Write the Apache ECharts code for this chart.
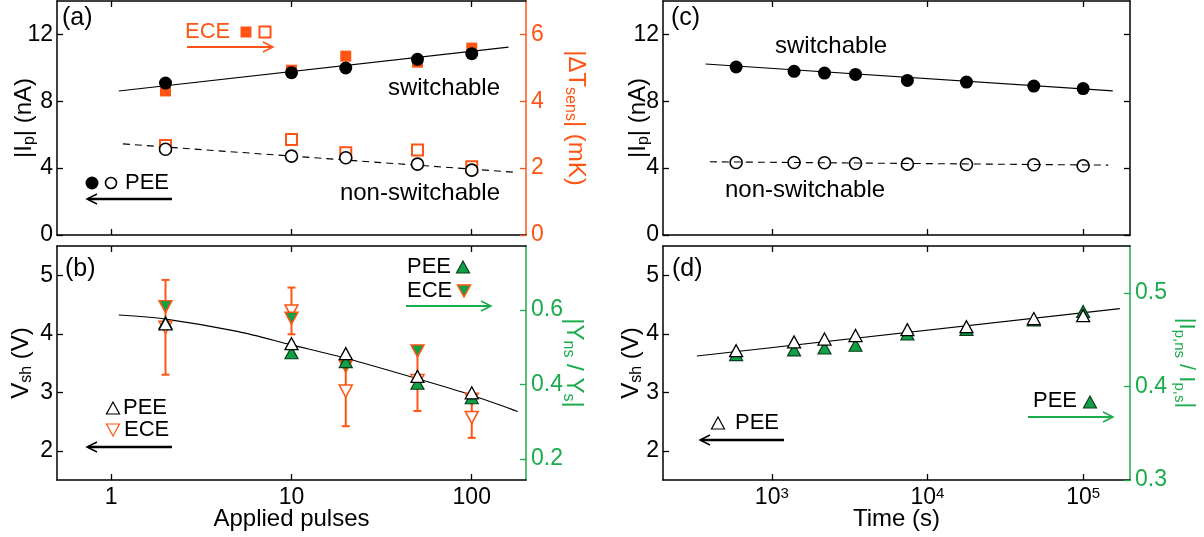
<!DOCTYPE html>
<html>
<head>
<meta charset="utf-8">
<script src="https://cdn.jsdelivr.net/npm/echarts@6/dist/echarts.min.js"></script>
<style>
  html, body { margin: 0; background: #fff; }
  #chart { width: 1204px; height: 537px; }
</style>
</head>
<body>
<div id="chart"></div>
<script>
// Data

// (a) + (b): applied pulses
const pulses = [2, 10, 20, 50, 100];
const peeSwitchA = [9.09, 9.71, 9.99, 10.51, 10.85];      // |Ip| nA, filled circles
const peeNonSwitchA = [5.13, 4.72, 4.62, 4.24, 3.88];     // |Ip| nA, open circles
const eceSwitchA = [4.31, 4.93, 5.35, 5.17, 5.59];        // |dT| mK, filled squares
const eceNonSwitchA = [2.68, 2.86, 2.46, 2.54, 2.04];     // |dT| mK, open squares
const fitSwitchAX = [1.1, 160];
const fitSwitchAY = [8.62, 11.24];
const fitNonSwitchAX = [1.16, 170];
const fitNonSwitchAY = [5.45, 3.76];

const peeVshB = [4.17, 3.83, 3.66, 3.27, 2.99];           // Vsh, open up triangles
const eceVshB = [4.11, 4.39, 3.02, 3.20, 2.57];           // Vsh, open down triangles
const eceErrB = [0.81, 0.40, 0.60, 0.52, 0.35];
const peeRatioB = [0.566, 0.485, 0.461, 0.403, 0.364];    // right axis, green up
const eceRatioB = [0.609, 0.578, 0.449, 0.490, 0.360];    // right axis, green down
const fitVshBX = [1.1, 2, 5, 10, 20, 50, 100, 180];
const fitVshBY = [4.32, 4.25, 4.04, 3.81, 3.58, 3.23, 2.95, 2.67];

// (c) + (d): time
const times = [590, 1390, 2180, 3450, 7430, 17800, 48200, 100000];
const peeSwitchC = [10.05, 9.79, 9.69, 9.61, 9.25, 9.15, 8.91, 8.76];
const peeNonSwitchC = [4.34, 4.34, 4.32, 4.28, 4.24, 4.22, 4.20, 4.14];
const fitSwitchCX = [375, 155000];
const fitSwitchCY = [10.23, 8.62];
const fitNonSwitchCX = [400, 145000];
const fitNonSwitchCY = [4.38, 4.18];

const peeVshD = [3.71, 3.86, 3.91, 3.97, 4.07, 4.12, 4.26, 4.31];
const peeRatioD = [0.434, 0.439, 0.441, 0.444, 0.456, 0.461, 0.471, 0.480];
const fitVshDX = [330, 172000];
const fitVshDY = [3.62, 4.43];

// Tick labels
const pulseTicks = [1, 10, 100];
const timeTicks = [1000, 10000, 100000];
const ipTicks = [0, 4, 8, 12];
const dtTicks = [0, 2, 4, 6];
const vshTicks = [2, 3, 4, 5];
const gammaTicks = [0.2, 0.4, 0.6];
const ratioTicks = [0.3, 0.4, 0.5];

// Styles
const FONT = 'Liberation Sans, Arial, Helvetica, sans-serif';
const ORANGE = '#ff5414';
const GREEN = '#1aab4b';
const GREEN_FILL = '#12a046';
const TICK_SIZE = 23;

const chart = echarts.init(document.getElementById('chart'), null, { renderer: 'canvas' });

const grids = [
  { left: 57, top: 1, width: 469, height: 234 },    // a
  { left: 57, top: 246, width: 469, height: 234 },  // b
  { left: 663, top: 1, width: 467, height: 234 },   // c
  { left: 663, top: 246, width: 467, height: 234 }, // d
];

function zip(xs, ys) {
  return xs.map((x, i) => [x, ys[i]]);
}

// rich styles for subscripts in axis names
const subRich = (size, color) => ({
  s: { fontSize: size, fontFamily: FONT, color: color, lineHeight: 10, verticalAlign: 'bottom' },
});

function xAxis(gridIndex, min, max, ticks, position, showLabels, formatter, name) {
  return {
    type: 'log', logBase: 10, gridIndex, position, min, max,
    name: name || '',
    nameLocation: 'middle',
    nameGap: 27,
    nameMoveOverlap: false,
    nameTextStyle: { fontSize: 24, fontFamily: FONT, color: '#000' },
    axisLine: { show: true, onZero: false, lineStyle: { color: '#000', width: 1.5 } },
    axisTick: { show: true, inside: true, length: 6, customValues: ticks, lineStyle: { color: '#000', width: 1.3 } },
    axisLabel: {
      show: showLabels, customValues: ticks, formatter, margin: 6,
      fontSize: TICK_SIZE, fontFamily: FONT, color: '#000',
      rich: {
        b: { fontSize: 23, fontFamily: FONT, color: '#000', lineHeight: 24 },
        p: { fontSize: 15, fontFamily: FONT, color: '#000', lineHeight: 14, verticalAlign: 'top' },
      },
    },
    splitLine: { show: false },
  };
}

function yAxis(gridIndex, min, max, ticks, position, color, showLabels, name, nameGap, nameSize) {
  return {
    type: 'value', gridIndex, position, min, max,
    name: name || '',
    nameLocation: 'middle',
    nameRotate: position === 'left' ? 90 : -90,
    nameGap: nameGap || 20,
    nameMoveOverlap: false,
    nameTextStyle: { fontSize: nameSize || 24, fontFamily: FONT, color, lineHeight: 28, rich: subRich(Math.round((nameSize || 24) * 0.66), color) },
    axisLine: { show: true, onZero: false, lineStyle: { color, width: 1.5 } },
    axisTick: { show: true, inside: true, length: 6, customValues: ticks, lineStyle: { color, width: 1.3 } },
    axisLabel: { show: showLabels, customValues: ticks, margin: position === 'left' ? 4 : 5, fontSize: TICK_SIZE, fontFamily: FONT, color },
    splitLine: { show: false },
  };
}

const xAxes = [
  xAxis(0, 0.5, 200, pulseTicks, 'bottom', false),
  xAxis(0, 0.5, 200, pulseTicks, 'top', false),
  xAxis(1, 0.5, 200, pulseTicks, 'bottom', true, v => String(v), 'Applied pulses'),
  xAxis(1, 0.5, 200, pulseTicks, 'top', false),
  xAxis(2, 200, 200000, timeTicks, 'bottom', false),
  xAxis(2, 200, 200000, timeTicks, 'top', false),
  xAxis(3, 200, 200000, timeTicks, 'bottom', true, v => '{b|10}{p|' + Math.round(Math.log10(v)) + '}', 'Time (s)'),
  xAxis(3, 200, 200000, timeTicks, 'top', false),
];

const yAxes = [
  yAxis(0, 0, 14, ipTicks, 'left', '#000', true, '|I{s|p}| (nA)', 19),
  yAxis(0, 0, 7, dtTicks, 'right', ORANGE, true, '|ΔT{s|sens}| (mK)', 36),
  yAxis(1, 1.5, 5.5, vshTicks, 'left', '#000', true, 'V{s|sh} (V)', 22),
  yAxis(1, 0.143, 0.772, gammaTicks, 'right', GREEN, true, '|Y{s|ns} / Y{s|s}|', 34),
  yAxis(2, 0, 14, ipTicks, 'left', '#000', true, '|I{s|p}| (nA)', 11),
  yAxis(2, 0, 14, ipTicks, 'right', '#000', false),
  yAxis(3, 1.5, 5.5, vshTicks, 'left', '#000', true, 'V{s|sh} (V)', 18),
  yAxis(3, 0.3, 0.55, ratioTicks, 'right', GREEN, true, '|I{s|p,ns} / I{s|p,s}|', 42, 22),
];

function fitLine(xi, yi, xs, ys, dashed, smooth) {
  return {
    type: 'line', xAxisIndex: xi, yAxisIndex: yi, data: zip(xs, ys),
    showSymbol: false, smooth: smooth || false, silent: true, z: 1,
    lineStyle: { color: '#000', width: 1.1, type: dashed ? [7, 5] : 'solid' },
  };
}

function scatter(xi, yi, xs, ys, symbol, size, fill, border, borderWidth, z, rotate) {
  return {
    type: 'scatter', xAxisIndex: xi, yAxisIndex: yi, data: zip(xs, ys),
    symbol, symbolSize: size, symbolRotate: rotate || 0, z, silent: true,
    itemStyle: { color: fill, borderColor: border, borderWidth, opacity: 1 },
  };
}

const errorBars = {
  type: 'custom', xAxisIndex: 2, yAxisIndex: 2, z: 1, silent: true,
  data: pulses.map((p, i) => [p, eceVshB[i] - eceErrB[i], eceVshB[i] + eceErrB[i]]),
  encode: { x: 0, y: [1, 2] },
  renderItem: function (params, api) {
    const x = api.value(0);
    const lo = api.coord([x, api.value(1)]);
    const hi = api.coord([x, api.value(2)]);
    const cap = 4;
    const st = { stroke: ORANGE, lineWidth: 2 };
    return {
      type: 'group',
      children: [
        { type: 'line', shape: { x1: lo[0], y1: lo[1], x2: hi[0], y2: hi[1] }, style: st },
        { type: 'line', shape: { x1: lo[0] - cap, y1: lo[1], x2: lo[0] + cap, y2: lo[1] }, style: st },
        { type: 'line', shape: { x1: hi[0] - cap, y1: hi[1], x2: hi[0] + cap, y2: hi[1] }, style: st },
      ],
    };
  },
};

const TRI = [13, 12];

const series = [
  // (a)
  fitLine(0, 0, fitSwitchAX, fitSwitchAY, false),
  fitLine(0, 0, fitNonSwitchAX, fitNonSwitchAY, true),
  scatter(0, 1, pulses, eceSwitchA, 'rect', 11, ORANGE, ORANGE, 0, 2),
  scatter(0, 1, pulses, eceNonSwitchA, 'rect', 11, '#fff', ORANGE, 2, 2),
  scatter(0, 0, pulses, peeSwitchA, 'circle', 13, '#000', '#000', 0, 3),
  scatter(0, 0, pulses, peeNonSwitchA, 'circle', 12, '#fff', '#000', 1.6, 3),
  // (b)
  fitLine(2, 2, fitVshBX, fitVshBY, false, 0.3),
  errorBars,
  scatter(2, 2, pulses, eceVshB, 'triangle', TRI, '#fff', ORANGE, 1.5, 2, 180),
  scatter(2, 3, pulses, eceRatioB, 'triangle', TRI, GREEN_FILL, ORANGE, 1.5, 3, 180),
  scatter(2, 3, pulses, peeRatioB, 'triangle', TRI, GREEN_FILL, '#0b3d1c', 1.2, 4),
  scatter(2, 2, pulses, peeVshB, 'triangle', TRI, '#fff', '#000', 1.3, 5),
  // (c)
  fitLine(4, 4, fitSwitchCX, fitSwitchCY, false),
  fitLine(4, 4, fitNonSwitchCX, fitNonSwitchCY, true),
  scatter(4, 4, times, peeSwitchC, 'circle', 13, '#000', '#000', 0, 3),
  scatter(4, 4, times, peeNonSwitchC, 'circle', 12, 'rgba(255,255,255,0)', '#000', 1.6, 3),
  // (d)
  fitLine(6, 6, fitVshDX, fitVshDY, false),
  scatter(6, 7, times, peeRatioD, 'triangle', TRI, GREEN_FILL, '#0b3d1c', 1.2, 3),
  scatter(6, 6, times, peeVshD, 'triangle', TRI, '#fff', '#000', 1.3, 4),
];

// Annotations: panel letters, labels, legend keys and arrows
function label(text, x, y, size, color, align) {
  return {
    type: 'text', x, y, silent: true, z: 10,
    style: { text, fontSize: size, fontFamily: FONT, fill: color || '#000', align: align || 'left', verticalAlign: 'middle' },
  };
}

function arrow(x1, x2, y, color, width) {
  const dir = x2 > x1 ? 1 : -1;
  return {
    type: 'group', silent: true, z: 10,
    children: [
      { type: 'line', shape: { x1, y1: y, x2: x2 - dir * 1, y2: y }, style: { stroke: color, lineWidth: width } },
      { type: 'polyline', shape: { points: [[x2 - dir * 10, y - 5], [x2, y], [x2 - dir * 10, y + 5]] }, style: { stroke: color, lineWidth: 1.5, fill: null } },
    ],
  };
}

function triKey(cx, cy, down, fill, stroke, lw) {
  const w = 13, h = 12;
  const pts = down
    ? [[cx - w / 2, cy - h / 2], [cx + w / 2, cy - h / 2], [cx, cy + h / 2]]
    : [[cx, cy - h / 2], [cx + w / 2, cy + h / 2], [cx - w / 2, cy + h / 2]];
  return { type: 'polygon', silent: true, z: 10, shape: { points: pts }, style: { fill, stroke, lineWidth: lw } };
}

const graphic = [
  // (a)
  label('(a)', 62, 18, 25),
  label('ECE', 185, 32, 22, ORANGE),
  { type: 'rect', z: 10, shape: { x: 240.5, y: 26.5, width: 11, height: 11 }, style: { fill: ORANGE } },
  { type: 'rect', z: 10, shape: { x: 259.5, y: 26.5, width: 11, height: 11 }, style: { fill: '#fff', stroke: ORANGE, lineWidth: 2 } },
  arrow(187, 273, 47, ORANGE, 2),
  label('switchable', 500, 88, 24, '#000', 'right'),
  label('non-switchable', 500, 193, 24, '#000', 'right'),
  { type: 'circle', z: 10, shape: { cx: 92, cy: 183, r: 6.5 }, style: { fill: '#000' } },
  { type: 'circle', z: 10, shape: { cx: 111, cy: 183, r: 5.5 }, style: { fill: '#fff', stroke: '#000', lineWidth: 1.6 } },
  label('PEE', 125, 183, 22),
  arrow(172, 87, 199, '#000', 2.5),
  // (b)
  label('(b)', 65, 269, 25),
  label('PEE', 407, 267, 22),
  triKey(463, 267, false, GREEN_FILL, '#0b3d1c', 1.2),
  label('ECE', 407, 291, 22),
  triKey(464, 291, true, GREEN_FILL, ORANGE, 1.5),
  arrow(406, 491, 306, GREEN, 2),
  triKey(113, 408, false, '#fff', '#000', 1.2),
  label('PEE', 123, 408, 22),
  triKey(113, 430, true, '#fff', ORANGE, 1.2),
  label('ECE', 124, 430, 22),
  arrow(172, 87, 447, '#000', 2.5),
  // (c)
  label('(c)', 671, 18, 25),
  label('switchable', 775, 46, 24),
  label('non-switchable', 725, 190, 24),
  // (d)
  label('(d)', 672, 269, 25),
  triKey(718, 423, false, '#fff', '#000', 1.2),
  label('PEE', 735, 423, 22),
  arrow(784, 700, 440, '#000', 2.5),
  label('PEE', 1033, 401, 22),
  triKey(1090, 402, false, GREEN_FILL, '#0b3d1c', 1.2),
  arrow(1028, 1113, 417, GREEN, 2),
];

const options = {
  animation: false,
  backgroundColor: '#fff',
  grid: grids,
  xAxis: xAxes,
  yAxis: yAxes,
  series,
  graphic,
};

chart.setOption(options);
</script>
</body>
</html>
